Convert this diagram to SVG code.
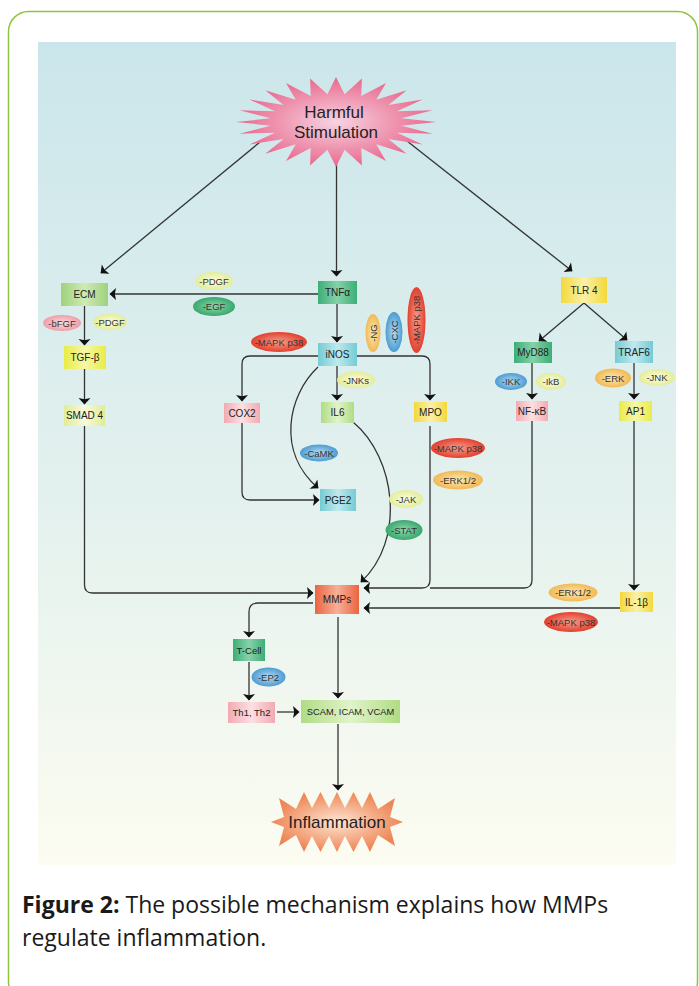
<svg xmlns="http://www.w3.org/2000/svg" width="699" height="986" viewBox="0 0 699 986">
<defs>
<style>
.t{font-family:"Liberation Sans",Arial,sans-serif;font-size:10px;fill:#222;text-anchor:middle;dominant-baseline:central}
.e{font-family:"Liberation Sans",Arial,sans-serif;font-size:9.5px;fill:#333;text-anchor:middle;dominant-baseline:central}
.c{fill:none;stroke:#333;stroke-width:1.3}
.ca{fill:none;stroke:#333;stroke-width:1.3;marker-end:url(#ah)}
.cap{font-family:"Open Sans","Liberation Sans",sans-serif;font-size:23px;fill:#1a1a1a}
</style>
<marker id="ah" viewBox="-8 -8 10 16" refX="0" refY="0" markerWidth="10" markerHeight="16" markerUnits="userSpaceOnUse" orient="auto">
<path d="M0.5,0 L-6,-6 L-4.8,0 L-6,6 Z" fill="#111"/>
</marker>
<linearGradient id="panel" x1="0" y1="0" x2="0" y2="1">
<stop offset="0" stop-color="#cbe6eb"/><stop offset="0.55" stop-color="#e3f1ee"/><stop offset="1" stop-color="#fcfcf1"/>
</linearGradient>
<linearGradient id="gECM"><stop offset="0" stop-color="#9ed27c"/><stop offset="0.5" stop-color="#cfeab5"/><stop offset="1" stop-color="#9ed27c"/></linearGradient>
<linearGradient id="gDG"><stop offset="0" stop-color="#3dae78"/><stop offset="0.5" stop-color="#86d2a8"/><stop offset="1" stop-color="#3dae78"/></linearGradient>
<linearGradient id="gYel"><stop offset="0" stop-color="#f3d93a"/><stop offset="0.5" stop-color="#fbf0a8"/><stop offset="1" stop-color="#f3d93a"/></linearGradient>
<linearGradient id="gTGF"><stop offset="0" stop-color="#e8ec45"/><stop offset="0.5" stop-color="#f6f7a6"/><stop offset="1" stop-color="#e8ec45"/></linearGradient>
<linearGradient id="gSMAD"><stop offset="0" stop-color="#e0ed96"/><stop offset="0.5" stop-color="#f7f9dc"/><stop offset="1" stop-color="#e0ed96"/></linearGradient>
<linearGradient id="gPink"><stop offset="0" stop-color="#f2aab2"/><stop offset="0.5" stop-color="#fbe0e2"/><stop offset="1" stop-color="#f2aab2"/></linearGradient>
<linearGradient id="gCyan"><stop offset="0" stop-color="#74cbd3"/><stop offset="0.5" stop-color="#bfe9ee"/><stop offset="1" stop-color="#74cbd3"/></linearGradient>
<linearGradient id="gLG"><stop offset="0" stop-color="#b0dc84"/><stop offset="0.5" stop-color="#e0f3cb"/><stop offset="1" stop-color="#b0dc84"/></linearGradient>
<linearGradient id="gMMP"><stop offset="0" stop-color="#ec6440"/><stop offset="0.5" stop-color="#f6b098"/><stop offset="1" stop-color="#ec6440"/></linearGradient>
<radialGradient id="ePale"><stop offset="0" stop-color="#fbfce4"/><stop offset="1" stop-color="#e4ed98"/></radialGradient>
<radialGradient id="eGreen"><stop offset="0" stop-color="#90d5ab"/><stop offset="1" stop-color="#38a86e"/></radialGradient>
<radialGradient id="ePink"><stop offset="0" stop-color="#fbdadd"/><stop offset="1" stop-color="#ef9ea7"/></radialGradient>
<radialGradient id="eRed"><stop offset="0" stop-color="#f59d8a"/><stop offset="1" stop-color="#e3402e"/></radialGradient>
<radialGradient id="eOrange"><stop offset="0" stop-color="#fce8b4"/><stop offset="1" stop-color="#f1b955"/></radialGradient>
<radialGradient id="eBlue"><stop offset="0" stop-color="#b4d9f1"/><stop offset="1" stop-color="#4c9dd3"/></radialGradient>
<radialGradient id="starPink" cx="0.5" cy="0.5" r="0.5"><stop offset="0" stop-color="#f7d3e2"/><stop offset="1" stop-color="#e9688c"/></radialGradient>
<radialGradient id="starOr" cx="0.5" cy="0.5" r="0.5"><stop offset="0" stop-color="#fde6d4"/><stop offset="1" stop-color="#ee8655"/></radialGradient>
</defs>

<rect x="8.5" y="11.5" width="689" height="990" rx="20" fill="#fff" stroke="#8cc63e" stroke-width="1.5"/>
<rect x="38" y="42" width="638" height="823" fill="url(#panel)"/>

<g id="connectors">
<path class="ca" d="M260,142 L101,273"/>
<path class="ca" d="M336.5,155 L336.5,276"/>
<path class="ca" d="M407,141 L572,271"/>
<path class="ca" d="M318,294 L110,294"/>
<path class="ca" d="M84.5,306 L84.5,345"/>
<path class="ca" d="M84.5,369 L84.5,404"/>
<path class="ca" d="M337,304 L337,342"/>
<path class="ca" d="M318,356 L250,356 Q242,356 242,364 L242,401"/>
<path class="ca" d="M357,356 L422,356 Q430,356 430,364 L430,400"/>
<path class="ca" d="M337,366 L337,400"/>
<path class="ca" d="M318,367 C288,395 276,452 318,488"/>
<path class="ca" d="M242,423 L242,492 Q242,500 250,500 L319,500"/>
<path class="ca" d="M353,422 C396,458 406,540 361,582"/>
<path class="ca" d="M430,426 L430,580 Q430,588 422,588 L364,588"/>
<path class="c" d="M532,421 L532,580 Q532,588 524,588 L430,588"/>
<path class="ca" d="M532,363 L532,399"/>
<path class="ca" d="M634,363 L634,399"/>
<path class="ca" d="M584,303 L539,341"/>
<path class="ca" d="M584,303 L627,340"/>
<path class="ca" d="M634,421 L634,590"/>
<path class="ca" d="M620,608 L364,608"/>
<path class="ca" d="M84.5,426 L84.5,585 Q84.5,593 92.5,593 L313,593"/>
<path class="ca" d="M313,603 L258,603 Q249,603 249,612 L249,637"/>
<path class="ca" d="M338,617 L338,698"/>
<path class="ca" d="M249,662 L249,700"/>
<path class="ca" d="M277,712 L299,712"/>
<path class="ca" d="M338,724 L338,790"/>
</g>

<g id="harmful" transform="translate(336,122)">
<polygon fill="url(#starPink)" points="100,0 65.4,3.65 96.6,11.65 61,10.7 86.6,22.5 52.4,17.05 70.7,31.8 40.2,22.2 50,39 25.3,25.9 25.9,43.5 8.6,27.8 0,45 -8.6,27.8 -25.9,43.5 -25.3,25.9 -50,39 -40.2,22.2 -70.7,31.8 -52.4,17.05 -86.6,22.5 -61,10.7 -96.6,11.65 -65.4,3.65 -100,0 -65.4,-3.65 -96.6,-11.65 -61,-10.7 -86.6,-22.5 -52.4,-17.05 -70.7,-31.8 -40.2,-22.2 -50,-39 -25.3,-25.9 -25.9,-43.5 -8.6,-27.8 0,-45 8.6,-27.8 25.9,-43.5 25.3,-25.9 50,-39 40.2,-22.2 70.7,-31.8 52.4,-17.05 86.6,-22.5 61,-10.7 96.6,-11.65 65.4,-3.65"/>
<text class="t" x="-2" y="-10" style="font-size:17px">Harmful</text>
<text class="t" x="0" y="10" style="font-size:17px">Stimulation</text>
</g>

<g id="ecm"><rect x="61" y="283" width="47" height="23" fill="url(#gECM)"/><text class="t" x="84.5" y="294.5">ECM</text></g>
<g id="tnfa"><rect x="318" y="281" width="39" height="23" fill="url(#gDG)"/><text class="t" x="337.5" y="292.5">TNFα</text></g>
<g id="tlr4"><rect x="561" y="277" width="46" height="26" fill="url(#gYel)"/><text class="t" x="584" y="290">TLR 4</text></g>
<g id="tgfb"><rect x="64" y="346" width="42" height="23" fill="url(#gTGF)"/><text class="t" x="85" y="357.5">TGF-β</text></g>
<g id="smad4"><rect x="64" y="405" width="41" height="21" fill="url(#gSMAD)"/><text class="t" x="84.5" y="415.5">SMAD 4</text></g>
<g id="inos"><rect x="318" y="343" width="39" height="23" fill="url(#gCyan)"/><text class="t" x="337.5" y="354.5">iNOS</text></g>
<g id="cox2"><rect x="224" y="403" width="36" height="20" fill="url(#gPink)"/><text class="t" x="242" y="413">COX2</text></g>
<g id="il6"><rect x="321" y="402" width="33" height="21" fill="url(#gLG)"/><text class="t" x="337.5" y="412.5">IL6</text></g>
<g id="mpo"><rect x="414" y="402" width="33" height="20" fill="url(#gYel)"/><text class="t" x="430.5" y="412">MPO</text></g>
<g id="myd88"><rect x="514" y="342" width="38" height="21" fill="url(#gDG)"/><text class="t" x="533" y="352.5">MyD88</text></g>
<g id="traf6"><rect x="615" y="341" width="38" height="22" fill="url(#gCyan)"/><text class="t" x="634" y="352">TRAF6</text></g>
<g id="nfkb"><rect x="516" y="401" width="32" height="20" fill="url(#gPink)"/><text class="t" x="532" y="411">NF-κB</text></g>
<g id="ap1"><rect x="619" y="401" width="33" height="20" fill="url(#gTGF)"/><text class="t" x="635.5" y="411">AP1</text></g>
<g id="pge2"><rect x="320" y="489" width="36" height="22" fill="url(#gCyan)"/><text class="t" x="338" y="500">PGE2</text></g>
<g id="mmps"><rect x="315" y="585" width="44" height="29" fill="url(#gMMP)"/><text class="t" x="337" y="599.5">MMPs</text></g>
<g id="il1b"><rect x="620" y="592" width="33" height="20" fill="url(#gYel)"/><text class="t" x="636.5" y="602">IL-1β</text></g>
<g id="tcell"><rect x="233" y="639" width="32" height="22" fill="url(#gDG)"/><text class="t" x="249" y="650" style="font-size:9.5px">T-Cell</text></g>
<g id="th"><rect x="228" y="702" width="47" height="21" fill="url(#gPink)"/><text class="t" x="251.5" y="712.5" style="font-size:9.5px">Th1, Th2</text></g>
<g id="scam"><rect x="301" y="700" width="99" height="23" fill="url(#gLG)"/><text class="t" x="350.5" y="711.5" style="font-size:9.3px">SCAM, ICAM, VCAM</text></g>

<g id="inflammation" transform="translate(337,822)">
<polygon fill="url(#starOr)" points="-66,0 -53,-5 -58,-24 -41,-13 -33,-30 -25,-14 -16.5,-30 -8,-14 0,-30 8,-14 16.5,-30 25,-14 33,-30 41,-13 58,-24 53,-5 66,0 53,5 58,24 41,13 33,30 25,14 16.5,30 8,14 0,30 -8,14 -16.5,30 -25,14 -33,30 -41,13 -58,24 -53,5"/>
<text class="t" x="0" y="0" style="font-size:17px">Inflammation</text>
</g>

<g id="pdgf1"><ellipse cx="214" cy="281" rx="19" ry="9" fill="url(#ePale)"/><text class="e" x="214" y="281">-PDGF</text></g>
<g id="egf"><ellipse cx="214" cy="306.5" rx="21" ry="9.5" fill="url(#eGreen)"/><text class="e" x="214" y="306.5">-EGF</text></g>
<g id="bfgf"><ellipse cx="62" cy="323" rx="19" ry="8" fill="url(#ePink)"/><text class="e" x="62" y="323">-bFGF</text></g>
<g id="pdgf2"><ellipse cx="110" cy="322" rx="17" ry="8.5" fill="url(#ePale)"/><text class="e" x="110" y="322">-PDGF</text></g>
<g id="mapk1"><ellipse cx="279" cy="342" rx="28" ry="10" fill="url(#eRed)"/><text class="e" x="279" y="342">-MAPK p38</text></g>
<g id="ng"><ellipse cx="373" cy="333" rx="7.5" ry="19" fill="url(#eOrange)"/><text class="e" transform="translate(373,333) rotate(-90)">-NG</text></g>
<g id="cxc"><ellipse cx="394" cy="332" rx="8.5" ry="20" fill="url(#eBlue)"/><text class="e" transform="translate(394,332) rotate(-90)">-CXC</text></g>
<g id="mapk2"><ellipse cx="416.5" cy="320" rx="9" ry="33" fill="url(#eRed)"/><text class="e" transform="translate(416.5,320) rotate(-90)">-MAPK p38</text></g>
<g id="jnks"><ellipse cx="356" cy="380" rx="19" ry="8.5" fill="url(#ePale)"/><text class="e" x="356" y="380">-JNKs</text></g>
<g id="ikk"><ellipse cx="511" cy="381.5" rx="16" ry="8.5" fill="url(#eBlue)"/><text class="e" x="511" y="381.5">-IKK</text></g>
<g id="ikb"><ellipse cx="551" cy="381.5" rx="15" ry="8.5" fill="url(#ePale)"/><text class="e" x="551" y="381.5">-IkB</text></g>
<g id="erk"><ellipse cx="613" cy="378" rx="18" ry="9.5" fill="url(#eOrange)"/><text class="e" x="613" y="378">-ERK</text></g>
<g id="jnk"><ellipse cx="657" cy="377.5" rx="18" ry="8.5" fill="url(#ePale)"/><text class="e" x="657" y="377.5">-JNK</text></g>
<g id="camk"><ellipse cx="319" cy="453" rx="19" ry="8.5" fill="url(#eBlue)"/><text class="e" x="319" y="453">-CaMK</text></g>
<g id="mapk3"><ellipse cx="458" cy="448" rx="27" ry="10" fill="url(#eRed)"/><text class="e" x="458" y="448">-MAPK p38</text></g>
<g id="erk12a"><ellipse cx="458" cy="480" rx="25" ry="9.5" fill="url(#eOrange)"/><text class="e" x="458" y="480">-ERK1/2</text></g>
<g id="jak"><ellipse cx="406" cy="499" rx="17" ry="9" fill="url(#ePale)"/><text class="e" x="406" y="499">-JAK</text></g>
<g id="stat"><ellipse cx="404" cy="530" rx="18.5" ry="10" fill="url(#eGreen)"/><text class="e" x="404" y="530">-STAT</text></g>
<g id="erk12b"><ellipse cx="573" cy="592.5" rx="24.5" ry="9" fill="url(#eOrange)"/><text class="e" x="573" y="592.5">-ERK1/2</text></g>
<g id="mapk4"><ellipse cx="571" cy="622" rx="27" ry="10" fill="url(#eRed)"/><text class="e" x="571" y="622">-MAPK p38</text></g>
<g id="ep2"><ellipse cx="268.5" cy="677" rx="17" ry="9.5" fill="url(#eBlue)"/><text class="e" x="268.5" y="677">-EP2</text></g>

<text class="cap" x="22" y="913"><tspan font-weight="bold">Figure 2:</tspan> The possible mechanism explains how MMPs</text>
<text class="cap" x="22" y="946">regulate inflammation.</text>
</svg>
